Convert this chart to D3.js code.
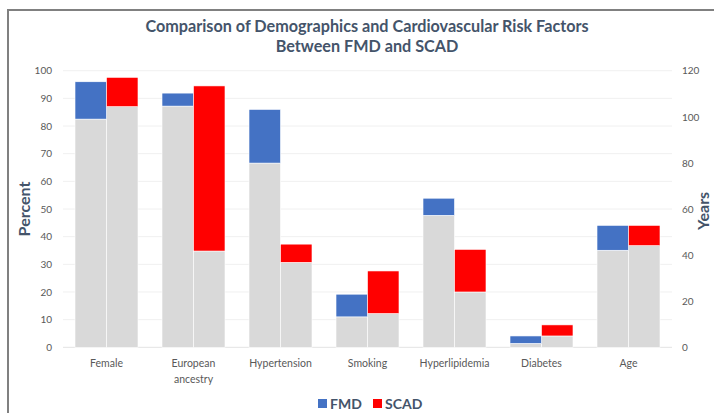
<!DOCTYPE html>
<html>
<head>
<meta charset="utf-8">
<script src="https://d3js.org/d3.v7.min.js"></script>
<style>
  body { margin: 0; background: #fff; }
  svg { display: block; font-family: Lato, "Open Sans", sans-serif; }
  .tick text { fill: #595959; font-size: 10px; }
</style>
</head>
<body>
<div id="chart"></div>
<script>
// categories and ranges (low / high)
var categories = ["Female", "European ancestry", "Hypertension", "Smoking", "Hyperlipidemia", "Diabetes", "Age"];
var fmdLow  = [82.5, 87.2, 66.6, 11.0, 47.7, 1.4, 42.1];
var fmdHigh = [96.0, 91.9, 86.0, 19.2, 53.9, 4.1, 52.9];
var scadLow  = [87.0, 34.8, 30.7, 12.2, 20.0, 4.1, 44.1];
var scadHigh = [97.6, 94.5, 37.3, 27.6, 35.4, 8.1, 52.9];
var percentTicks = [0, 10, 20, 30, 40, 50, 60, 70, 80, 90, 100];
var yearTicks = [0, 20, 40, 60, 80, 100, 120];
var series = ["FMD", "SCAD"];
var colors = {FMD: "#4472c4", SCAD: "#ff0000"};

const w = 714, h = 413;
const plotL = 63, plotR = 672, plotT = 70.7, plotB = 347.3;

const svg = d3.select("#chart").append("svg")
  .attr("width", w).attr("height", h);

// frame
svg.append("path")
  .attr("d", "M8,413 L8,10 L714,10")
  .attr("fill", "none").attr("stroke", "#808080").attr("stroke-width", 2);

const x = d3.scaleBand().domain(categories).range([plotL, plotR])
  .paddingInner(0.276).paddingOuter(0.138);
const xs = d3.scaleBand().domain(series).range([0, x.bandwidth()]);
const yP = d3.scaleLinear().domain([0, 100]).range([plotB, plotT]);
const yY = d3.scaleLinear().domain([0, 120]).range([plotB, plotT]);

// gridlines
svg.append("g").selectAll("line").data(percentTicks).enter().append("line")
  .attr("x1", plotL).attr("x2", plotR)
  .attr("y1", d => yP(d)).attr("y2", d => yP(d))
  .attr("stroke", d => d === 0 ? "#e3e3e3" : "#f0f0f0").attr("stroke-width", 1);

// axes (labels only)
const yl = svg.append("g").attr("transform", "translate(" + (plotL - 8) + ",0)")
  .call(d3.axisLeft(yP).tickValues(percentTicks).tickSize(0));
const yr = svg.append("g").attr("transform", "translate(" + (plotR + 7) + ",0)")
  .call(d3.axisRight(yY).tickValues(yearTicks).tickSize(0));
yl.select(".domain").remove();
yr.select(".domain").remove();
svg.selectAll(".tick text").attr("font-family", "Lato, sans-serif");

// rows
var rows = categories.map(function(c, i) {
  var yS = c === "Age" ? yY : yP;
  return [
    {cat: c, s: "FMD", lo: fmdLow[i], hi: fmdHigh[i], y: yS},
    {cat: c, s: "SCAD", lo: scadLow[i], hi: scadHigh[i], y: yS}
  ];
}).flat();

const g = svg.append("g");
// grey base
g.selectAll("rect.base").data(rows).enter().append("rect")
  .attr("class", "base")
  .attr("x", d => x(d.cat) + xs(d.s))
  .attr("width", xs.bandwidth())
  .attr("y", d => d.y(d.lo))
  .attr("height", d => d.y(0) - d.y(d.lo))
  .attr("fill", "#d9d9d9").attr("stroke", "#fff").attr("stroke-width", 0.6);
// range bar
g.selectAll("rect.rng").data(rows).enter().append("rect")
  .attr("class", "rng")
  .attr("x", d => x(d.cat) + xs(d.s))
  .attr("width", xs.bandwidth())
  .attr("y", d => d.y(d.hi))
  .attr("height", d => d.y(d.lo) - d.y(d.hi))
  .attr("fill", d => colors[d.s]).attr("stroke", "#fff").attr("stroke-width", 0.6);

// category labels
const cl = svg.append("g").selectAll("text").data(categories).enter().append("text")
  .attr("x", d => x(d) + x.bandwidth() / 2)
  .attr("y", 367)
  .attr("text-anchor", "middle")
  .attr("fill", "#595959").attr("font-size", "10.5px");
cl.each(function(d) {
  var parts = d === "European ancestry" ? ["European", "ancestry"] : [d];
  var t = d3.select(this);
  parts.forEach(function(p, k) {
    t.append("tspan").attr("x", x(d) + x.bandwidth() / 2).attr("dy", k ? 16 : 0).text(p);
  });
});

// title
var title = svg.append("text").attr("x", 367).attr("text-anchor", "middle")
  .attr("fill", "#44546a").attr("font-weight", "bold").attr("font-size", "16.2px");
title.append("tspan").attr("x", 367).attr("y", 32).text("Comparison of Demographics and Cardiovascular Risk Factors");
title.append("tspan").attr("x", 367).attr("y", 52).text("Between FMD and SCAD");

// axis titles
svg.append("text").attr("transform", "translate(30,209) rotate(-90)")
  .attr("text-anchor", "middle").attr("fill", "#44546a")
  .attr("font-weight", "bold").attr("font-size", "16px").text("Percent");
svg.append("text").attr("transform", "translate(709,211) rotate(-90)")
  .attr("text-anchor", "middle").attr("fill", "#44546a")
  .attr("font-weight", "bold").attr("font-size", "16px").text("Years");

// legend
const leg = svg.append("g");
var lx = [318, 373];
series.forEach(function(s, i) {
  leg.append("rect").attr("x", lx[i]).attr("y", 399).attr("width", 9).attr("height", 9)
    .attr("fill", colors[s]);
  leg.append("text").attr("x", lx[i] + 12).attr("y", 409)
    .attr("fill", "#44546a").attr("font-weight", "bold").attr("font-size", "14px").text(s);
});
</script>
</body>
</html>
